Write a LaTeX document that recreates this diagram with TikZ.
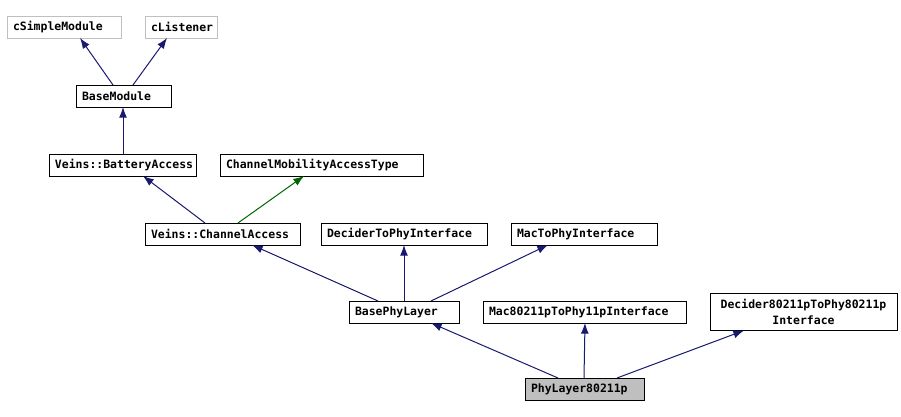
\documentclass[tikz,border=0pt]{standalone}
\usepackage{fontspec}
\setmonofont{DejaVu Sans Mono}
\usetikzlibrary{arrows.meta, positioning, calc}

\definecolor{edgeblue}{RGB}{25,25,112}
\definecolor{edgegreen}{RGB}{0,100,0}

\begin{document}
\begin{tikzpicture}[
    x=0.75pt, y=-0.75pt,
    node distance=18pt,
    cls/.style={rectangle, draw=black, fill=white, font=\fontsize{8.6}{12}\selectfont\ttfamily\bfseries, inner xsep=4.5pt, inner ysep=0pt, outer sep=0pt, minimum height=16.5pt, align=left, anchor=north west},
    ext/.style={cls, draw=gray!50},
    cur/.style={cls, fill=gray!50},
    line/.style={draw=edgeblue, -{Latex[length=8pt,width=6pt]}, line width=0.75pt},
    mixin/.style={line, draw=edgegreen, -{Latex[length=8pt,width=6pt, fill=edgegreen]}}
]
\useasboundingbox (0,0) rectangle (901,417);

\node [ext, minimum width=85.5pt, text width=76.5pt] (simplemod) at (7,16) {cSimpleModule};
\node [ext, right=of simplemod, minimum width=54pt, text width=45pt] (listener) {cListener};
\node [cls, minimum width=71.25pt, text width=62.25pt] (basemod) at (76,85) {BaseModule};
\node [cls, minimum width=110.25pt, text width=101.25pt] (battery) at (49,154) {Veins::BatteryAccess};
\node [cls, right=of battery, minimum width=152.25pt, text width=143.25pt] (chmobility) {ChannelMobilityAccessType};
\node [cls, minimum width=116.25pt, text width=107.25pt] (chaccess) at (145,223) {Veins::ChannelAccess};
\node [cls, right=15.75pt of chaccess, minimum width=124.5pt, text width=115.5pt] (decidertophy) {DeciderToPhyInterface};
\node [cls, right=of decidertophy, minimum width=109.5pt, text width=100.5pt] (mactophy) {MacToPhyInterface};
\node [cls, minimum width=82.5pt, text width=73.5pt] (basephy) at (349,301) {BasePhyLayer};
\node [cls, right=of basephy, minimum width=152.25pt, text width=143.25pt] (mac11p) {Mac80211pToPhy11pInterface};
\node [cls, right=of mac11p, minimum width=140.25pt, minimum height=27.75pt, text width=125.25pt, align=center] (decider11p) {Decider80211pToPhy80211p\\Interface};
\node [cur, minimum width=89.25pt, text width=80.25pt] (phylayer) at (525,378) {PhyLayer80211p};

% inheritance
\path [line] ($(basemod.north west)+(37,0)$) -- ($(simplemod.south west)+(73,0)$);
\path [line] ($(basemod.north west)+(57,0)$) -- ($(listener.south west)+(22,0)$);
\path [line] ($(battery.north west)+(74,0)$) -- ($(basemod.south west)+(47,0)$);
\path [line] ($(chaccess.north west)+(60,0)$) -- ($(battery.south west)+(94,0)$);
\path [mixin] ($(chaccess.north west)+(93,0)$) -- ($(chmobility.south west)+(84,0)$);
\path [line] ($(basephy.north west)+(29,0)$) -- ($(chaccess.south west)+(107,0)$);
\path [line] ($(basephy.north west)+(55,0)$) -- ($(decidertophy.south west)+(83,0)$);
\path [line] ($(basephy.north west)+(82,0)$) -- ($(mactophy.south west)+(37,0)$);
\path [line] ($(phylayer.north west)+(33,0)$) -- ($(basephy.south west)+(82,0)$);
\path [line] ($(phylayer.north west)+(59,0)$) -- ($(mac11p.south west)+(102,0)$);
\path [line] ($(phylayer.north west)+(92,0)$) -- ($(decider11p.south west)+(34,0)$);
\end{tikzpicture}
\end{document}
